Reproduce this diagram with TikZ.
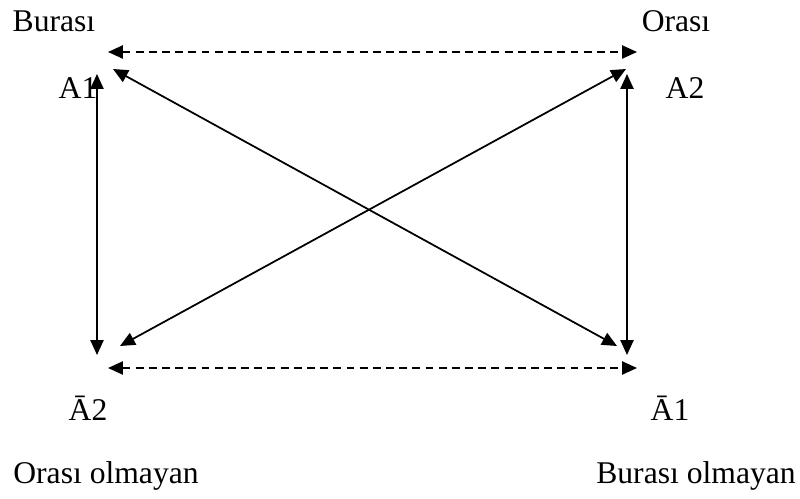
\documentclass[tikz,border=0pt]{standalone}
\usepackage{fontspec}
\setmainfont{Liberation Serif}
\usepackage{xcolor}
\usepackage{tikz}
\usetikzlibrary{arrows.meta,positioning}
\tikzset{
  lbl/.style={font=\fontsize{18}{20}\selectfont,inner sep=0pt},
  rel/.style={line width=1pt,{Triangle[length=8.5pt,width=7.5pt]}-{Triangle[length=8.5pt,width=7.5pt]}},
  dashrel/.style={rel,dash pattern=on 4.5pt off 3pt}
}

\begin{document}
\begin{tikzpicture}[x=0.02cm,y=-0.02cm]
  \useasboundingbox (0,0) rectangle (800,499);
  % labels
  \node[lbl] (bur) at (54,21) {Burası};
  \node[lbl] (ora) at (676,21) {Orası};
  \node[lbl] (a1) at (78,88) {A1};
  \node[lbl] (a2) at (685,88) {A2};
  \node[lbl] (na2) at (88,408) {Ā2};
  \node[lbl] (na1) at (670,408) {Ā1};
  \node[lbl] (borasi) at (106,476) {Orası olmayan};
  \node[lbl] (bburasi) at (696,476) {Burası olmayan};
  % arrow ends
  \coordinate (tdl) at (108,52);
  \coordinate (tdr) at (637,52);
  \coordinate (bdl) at (108,368);
  \coordinate (bdr) at (637,368);
  \coordinate (lvt) at (97,74);
  \coordinate (lvb) at (97,355);
  \coordinate (rvt) at (627,74);
  \coordinate (rvb) at (627,355);
  \coordinate (d1a) at (113,69);
  \coordinate (d1b) at (617,346);
  \coordinate (d2a) at (626,69);
  \coordinate (d2b) at (120,346);
  % dashed pairs
  \draw[dashrel] (tdl) -- (tdr);
  \draw[dashrel] (bdl) -- (bdr);
  % verticals
  \draw[rel] (lvt) -- (lvb);
  \draw[rel] (rvt) -- (rvb);
  % diagonals
  \draw[rel] (d1a) -- (d1b);
  \draw[rel] (d2a) -- (d2b);
\end{tikzpicture}
\end{document}
